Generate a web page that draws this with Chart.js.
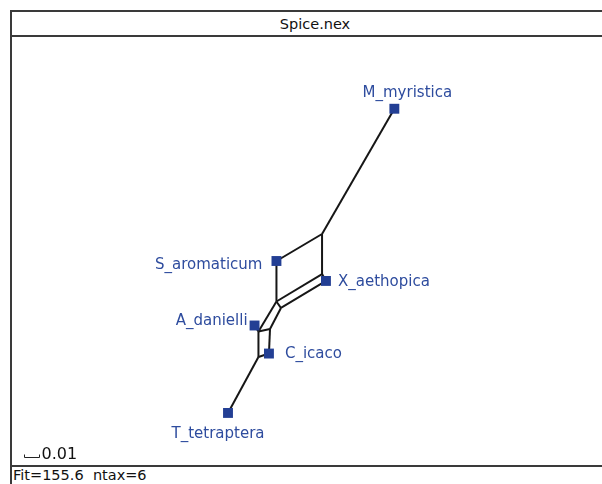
<!DOCTYPE html>
<html>
<head>
<meta charset="utf-8">
<script src="https://cdn.jsdelivr.net/npm/chart.js@4/dist/chart.umd.min.js"></script>
<style>
  html, body { margin: 0; padding: 0; background: #fff; width: 602px; height: 484px; overflow: hidden; }
  body { position: relative; font-family: "DejaVu Sans", sans-serif; }
  .hline { position: absolute; left: 10px; width: 620px; height: 2px; background: #3a3a3a; }
  .vline { position: absolute; left: 10px; top: 10px; width: 2px; height: 480px; background: #3a3a3a; }
  #title { position: absolute; left: 12px; width: 606px; top: 12px; height: 23px; line-height: 24px;
           text-align: center; font-size: 14.5px; color: #111; }
  #status { position: absolute; left: 13px; top: 467px; font-size: 14.5px; line-height: 17px; color: #111; }
  #plot { position: absolute; left: 12px; top: 37px; }
</style>
</head>
<body>
<div class="hline" style="top:10px"></div>
<div class="hline" style="top:35px"></div>
<div class="hline" style="top:465px"></div>
<div class="vline"></div>
<div id="title">Spice.nex</div>
<div id="status">Fit=155.6&nbsp; ntax=6</div>
<canvas id="plot" width="590" height="428"></canvas>
<script>
// Taxa (leaves) of the split network and their layout coordinates (substitutions/site)
const taxa   = ['M_myristica', 'S_aromaticum', 'X_aethopica', 'A_danielli', 'C_icaco', 'T_tetraptera'];
const taxonX = [0.2549, 0.1763, 0.2093, 0.1617, 0.1713, 0.1440];
const taxonY = [0.2375, 0.1360, 0.1227, 0.0930, 0.0743, 0.0347];

// Internal nodes of the network
const nodes = ['a', 'c', 'd', 'e', 'g', 'i', 'h'];
const nodeX = [0.2067, 0.2067, 0.1763, 0.1793, 0.1643, 0.1720, 0.1643];
const nodeY = [0.1540, 0.1273, 0.1090, 0.1047, 0.0890, 0.0907, 0.0720];

// Edges of the split network
const edgeFrom = ['M_myristica', 'a', 'a', 'S_aromaticum', 'c', 'c',           'X_aethopica', 'd', 'd', 'e', 'g', 'g',          'g', 'i',       'h',       'h'];
const edgeTo   = ['a',           'S_aromaticum', 'c', 'd', 'd', 'X_aethopica', 'e',           'e', 'g', 'i', 'i', 'A_danielli', 'h', 'C_icaco', 'C_icaco', 'T_tetraptera'];

// Scale bar
const scaleBarValue = 0.01;
const scaleBarLabel = '0.01';

// Plot extent (network units)
const xMin = 0, xMax = 0.39333, yMin = 0, yMax = 0.28533;

const pos = {};
taxa.forEach((t, k) => { pos[t] = { x: taxonX[k], y: taxonY[k] }; });
nodes.forEach((n, k) => { pos[n] = { x: nodeX[k], y: nodeY[k] }; });

// Label placement around each taxon marker (pixels)
const labelPlacement = {
  'M_myristica':  { dx: 13,  dy: -12, align: 'center' },
  'S_aromaticum': { dx: -14, dy: 8,   align: 'right'  },
  'X_aethopica':  { dx: 12,  dy: 5,   align: 'left'   },
  'A_danielli':   { dx: -7,  dy: 0,   align: 'right'  },
  'C_icaco':      { dx: 16,  dy: 4,   align: 'left'   },
  'T_tetraptera': { dx: -10, dy: 25,  align: 'center' }
};

const labelColor = '#2e4c9e';
const markerColor = '#233f94';

const datasets = [{
  type: 'scatter',
  label: 'taxa',
  data: taxa.map(t => pos[t]),
  pointStyle: 'rect',
  pointRadius: 7,
  pointHoverRadius: 7,
  pointBackgroundColor: markerColor,
  pointBorderWidth: 0,
  showLine: false
}];

edgeFrom.forEach((f, k) => {
  datasets.push({
    type: 'line',
    label: 'edge' + k,
    data: [pos[f], pos[edgeTo[k]]],
    borderColor: '#161616',
    borderWidth: 2,
    pointRadius: 0,
    tension: 0,
    fill: false
  });
});

const annotate = {
  id: 'networkAnnotations',
  afterDatasetsDraw(chart) {
    const ctx = chart.ctx;
    const xs = chart.scales.x, ys = chart.scales.y;
    ctx.save();
    ctx.font = '15px "DejaVu Sans", sans-serif';
    ctx.fillStyle = labelColor;
    ctx.textBaseline = 'alphabetic';
    taxa.forEach(t => {
      const p = labelPlacement[t];
      ctx.textAlign = p.align;
      ctx.fillText(t, xs.getPixelForValue(pos[t].x) + p.dx, ys.getPixelForValue(pos[t].y) + p.dy);
    });
    // scale bar
    const len = xs.getPixelForValue(scaleBarValue) - xs.getPixelForValue(0);
    const bx = 12.5, by = 420.5;
    ctx.strokeStyle = '#222';
    ctx.lineWidth = 1;
    ctx.beginPath();
    ctx.moveTo(bx, by - 3);
    ctx.lineTo(bx, by);
    ctx.lineTo(bx + len, by);
    ctx.lineTo(bx + len, by - 3);
    ctx.stroke();
    ctx.fillStyle = '#111';
    ctx.textAlign = 'left';
    ctx.font = '16px "DejaVu Sans", sans-serif';
    ctx.fillText(scaleBarLabel, bx + len + 2, by + 1);
    ctx.restore();
  }
};

new Chart(document.getElementById('plot'), {
  data: { datasets },
  options: {
    responsive: false,
    animation: false,
    events: [],
    layout: { padding: 0, autoPadding: false },
    plugins: { legend: { display: false }, tooltip: { enabled: false }, title: { display: false } },
    scales: {
      x: { type: 'linear', min: xMin, max: xMax, display: false },
      y: { type: 'linear', min: yMin, max: yMax, display: false }
    }
  },
  plugins: [annotate]
});
</script>
</body>
</html>
